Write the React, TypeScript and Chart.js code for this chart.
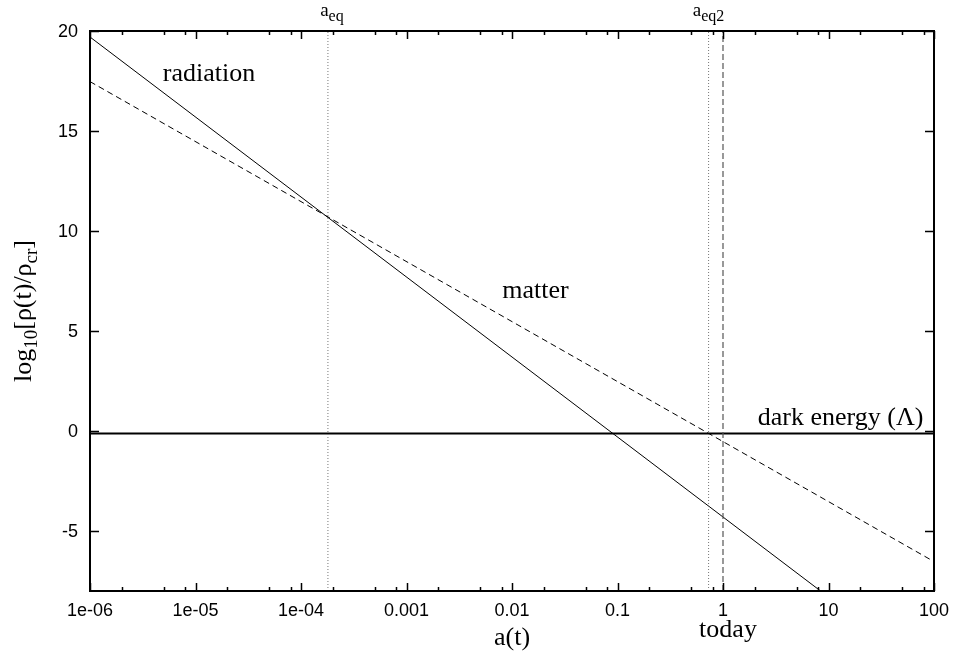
import React, { useEffect, useRef } from "react";
import { Chart, registerables } from "chart.js";

Chart.register(...registerables);

// ---- data ----
const xRange = [1e-6, 100];
const yRange = [-8, 20];
const xTicks = [1e-6, 1e-5, 1e-4, 1e-3, 1e-2, 1e-1, 1, 10, 100];
const xTickLabels = ["1e-06", "1e-05", "1e-04", "0.001", "0.01", "0.1", "1", "10", "100"];
const xMinorMultipliers = [2, 5, 8];
const yTicks = [-5, 0, 5, 10, 15, 20];
const yTickLabels = ["-5", "0", "5", "10", "15", "20"];

const aEnds = [1e-6, 100];
const radiation = [19.7, -12.3];
const matter = [17.47, -6.53];
const darkEnergy = [-0.13, -0.13];

const aEq = 1.8e-4;
const aEq2 = 0.73;
const aToday = 1;

type Part = { t: string; sub?: boolean };

const SERIF = '"Liberation Serif", "Times New Roman", serif';
const SANS = '"Liberation Sans", Arial, sans-serif';

function drawRich(
  ctx: CanvasRenderingContext2D,
  parts: Part[],
  x: number,
  y: number,
  size: number,
  subSize: number,
  subShift: number,
  align: "left" | "center" | "right"
) {
  ctx.textAlign = "left";
  ctx.textBaseline = "alphabetic";
  const widths = parts.map((p) => {
    ctx.font = `${p.sub ? subSize : size}px ${SERIF}`;
    return ctx.measureText(p.t).width;
  });
  const total = widths.reduce((a, b) => a + b, 0);
  let cx = align === "left" ? x : align === "center" ? x - total / 2 : x - total;
  parts.forEach((p, i) => {
    ctx.font = `${p.sub ? subSize : size}px ${SERIF}`;
    ctx.fillText(p.t, cx, p.sub ? y + subShift : y);
    cx += widths[i];
  });
}

const framePlugin = {
  id: "gnuplotFrame",
  afterDatasetsDraw(chart: any) {
    const ctx: CanvasRenderingContext2D = chart.ctx;
    const { left, right, top, bottom } = chart.chartArea;
    const xs = chart.scales.x;
    const ys = chart.scales.y;
    ctx.save();
    ctx.fillStyle = "#000";
    ctx.strokeStyle = "#000";

    // ticks
    ctx.lineWidth = 1.5;
    ctx.beginPath();
    xTicks.forEach((v) => {
      const px = Math.round(xs.getPixelForValue(v)) + 0.5;
      ctx.moveTo(px, bottom);
      ctx.lineTo(px, bottom - 8);
      ctx.moveTo(px, top);
      ctx.lineTo(px, top + 8);
    });
    xTicks.slice(0, -1).forEach((d) => {
      xMinorMultipliers.forEach((m) => {
        const px = Math.round(xs.getPixelForValue(d * m)) + 0.5;
        ctx.moveTo(px, bottom);
        ctx.lineTo(px, bottom - 4);
        ctx.moveTo(px, top);
        ctx.lineTo(px, top + 4);
      });
    });
    yTicks.forEach((v) => {
      const py = Math.round(ys.getPixelForValue(v)) + 0.5;
      ctx.moveTo(left, py);
      ctx.lineTo(left + 9, py);
      ctx.moveTo(right, py);
      ctx.lineTo(right - 9, py);
    });
    ctx.stroke();

    // frame
    ctx.lineWidth = 2;
    ctx.strokeRect(left, top, right - left, bottom - top);

    // tick labels
    ctx.font = `18px ${SANS}`;
    ctx.textAlign = "center";
    ctx.textBaseline = "alphabetic";
    xTicks.forEach((v, i) => {
      ctx.fillText(xTickLabels[i], xs.getPixelForValue(v), bottom + 25);
    });
    ctx.textAlign = "right";
    ctx.textBaseline = "middle";
    yTicks.forEach((v, i) => {
      ctx.fillText(yTickLabels[i], left - 12, ys.getPixelForValue(v) + 1);
    });

    // axis titles
    drawRich(ctx, [{ t: "a(t)" }], (left + right) / 2, bottom + 54, 26, 19, 6, "center");
    drawRich(ctx, [{ t: "today" }], xs.getPixelForValue(aToday) + 5, bottom + 46, 26, 19, 6, "center");
    ctx.save();
    ctx.translate(31, (top + bottom) / 2);
    ctx.rotate(-Math.PI / 2);
    drawRich(
      ctx,
      [{ t: "log" }, { t: "10", sub: true }, { t: "[ρ(t)/ρ" }, { t: "cr", sub: true }, { t: "]" }],
      0,
      0,
      26,
      19,
      6,
      "center"
    );
    ctx.restore();

    // top labels
    drawRich(ctx, [{ t: "a" }, { t: "eq", sub: true }], xs.getPixelForValue(aEq) + 4, top - 15, 19, 16, 5, "center");
    drawRich(ctx, [{ t: "a" }, { t: "eq2", sub: true }], xs.getPixelForValue(aEq2), top - 15, 19, 16, 5, "center");

    // curve labels
    drawRich(ctx, [{ t: "radiation" }], xs.getPixelForValue(4.9e-6), ys.getPixelForValue(17.5), 26, 19, 6, "left");
    drawRich(ctx, [{ t: "matter" }], xs.getPixelForValue(8.1e-3), ys.getPixelForValue(6.63), 26, 19, 6, "left");
    drawRich(ctx, [{ t: "dark energy (Λ)" }], xs.getPixelForValue(79.4), ys.getPixelForValue(0.3), 26, 19, 6, "right");

    ctx.restore();
  },
};

export default function App() {
  const ref = useRef<HTMLCanvasElement | null>(null);

  useEffect(() => {
    document.body.style.margin = "0";
    const canvas = ref.current;
    if (!canvas) return;
    const pts = (ys: number[]) => aEnds.map((x, i) => ({ x, y: ys[i] }));
    const vline = (x: number) => yRange.map((y) => ({ x, y }));
    const chart = new Chart(canvas, {
      type: "line",
      data: {
        datasets: [
          { label: "a_eq", data: vline(aEq), borderColor: "#777", borderWidth: 1, borderDash: [1, 2], pointRadius: 0 },
          { label: "a_eq2", data: vline(aEq2), borderColor: "#777", borderWidth: 1, borderDash: [1, 2], pointRadius: 0 },
          { label: "today", data: vline(aToday), borderColor: "#555", borderWidth: 1.2, borderDash: [6, 3], pointRadius: 0 },
          { label: "radiation", data: pts(radiation), borderColor: "#000", borderWidth: 1, pointRadius: 0 },
          { label: "matter", data: pts(matter), borderColor: "#000", borderWidth: 1, borderDash: [6, 4], pointRadius: 0 },
          { label: "dark energy", data: pts(darkEnergy), borderColor: "#000", borderWidth: 2, pointRadius: 0 },
        ],
      },
      options: {
        responsive: false,
        devicePixelRatio: 1,
        animation: false,
        layout: { padding: { left: 90, right: 21, top: 31, bottom: 63 } },
        plugins: { legend: { display: false }, tooltip: { enabled: false } },
        scales: {
          x: { type: "logarithmic", min: xRange[0], max: xRange[1], display: false },
          y: { type: "linear", min: yRange[0], max: yRange[1], display: false },
        },
      },
      plugins: [framePlugin],
    } as any);
    return () => chart.destroy();
  }, []);

  return (
    <div style={{ width: 955, height: 654, background: "#fff" }}>
      <canvas ref={ref} width={955} height={654} style={{ display: "block" }} />
    </div>
  );
}
